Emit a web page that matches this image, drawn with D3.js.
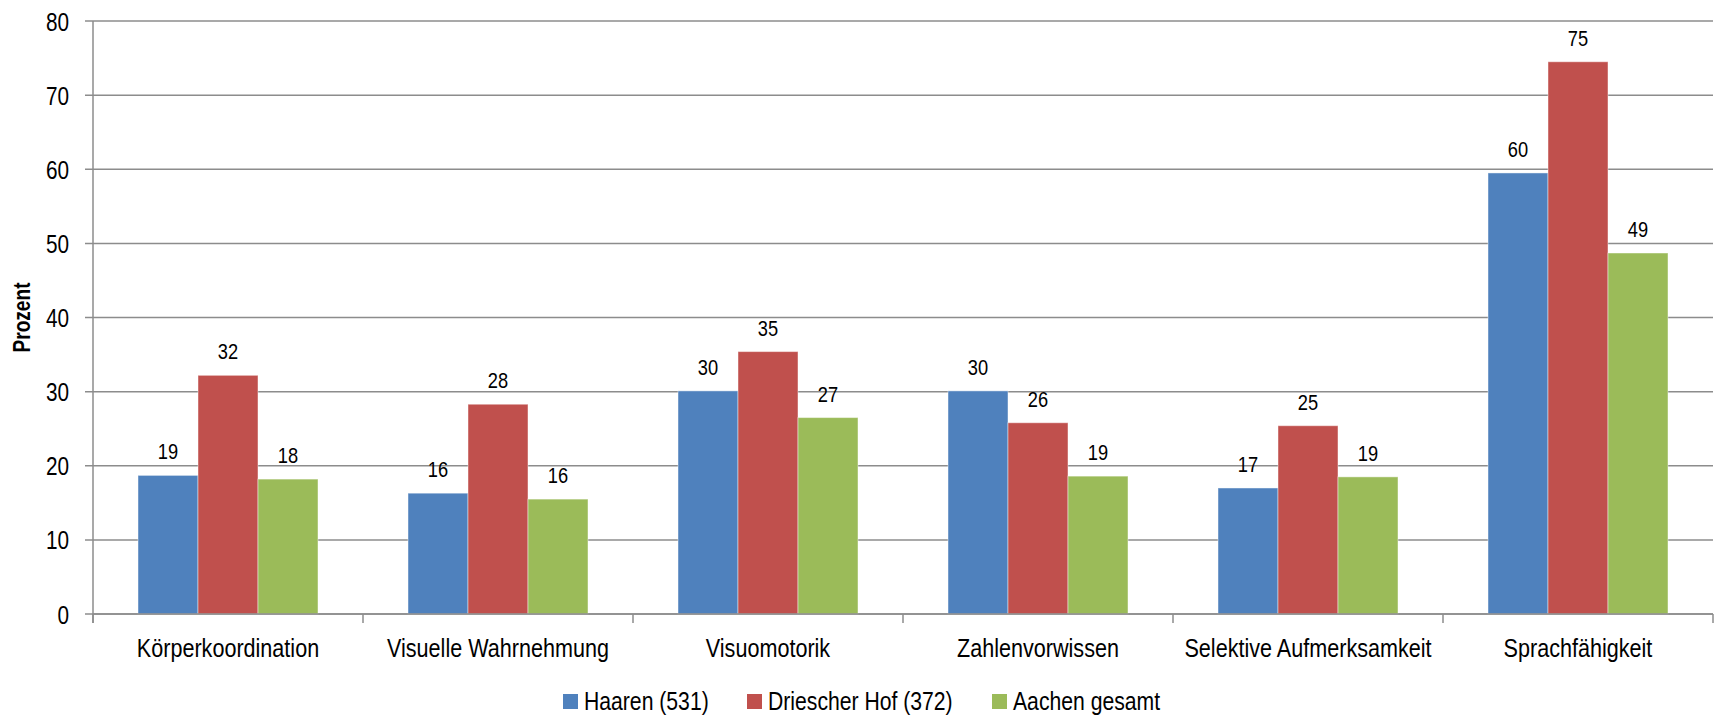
<!DOCTYPE html>
<html>
<head>
<meta charset="utf-8">
<script src="https://cdn.jsdelivr.net/npm/d3@7"></script>
<style>
  body { margin: 0; background: #fff; }
  text { font-family: "Liberation Sans", Arial, sans-serif; fill: #000; }
</style>
</head>
<body>
<figure id="chart" style="margin:0"></figure>
<script>
// categories and series
const categories = ["Körperkoordination", "Visuelle Wahrnehmung", "Visuomotorik", "Zahlenvorwissen", "Selektive Aufmerksamkeit", "Sprachfähigkeit"];
const seriesNames = ["Haaren (531)", "Driescher Hof (372)", "Aachen gesamt"];
const haaren = [18.7, 16.3, 30.1, 30.1, 17.0, 59.5];
const driescherHof = [32.2, 28.3, 35.4, 25.8, 25.4, 74.5];
const aachenGesamt = [18.2, 15.5, 26.5, 18.6, 18.5, 48.7];
const yTicks = [0, 10, 20, 30, 40, 50, 60, 70, 80];
const colors = ["#4F81BD", "#C0504D", "#9BBB59"];

const seriesValues = [haaren, driescherHof, aachenGesamt];

const W = 1719, H = 717;
const margin = {top: 21, right: 6, bottom: 103, left: 93};
const innerW = W - margin.left - margin.right;
const innerH = H - margin.top - margin.bottom;

// the chart font is a narrow sans; squeeze the regular one to match
function narrow(sel, k = 0.83) {
  sel.each(function() {
    const len = this.getComputedTextLength();
    d3.select(this)
      .attr("textLength", len * k)
      .attr("lengthAdjust", "spacingAndGlyphs");
  });
}

const svg = d3.select("figure#chart")
  .append("svg")
  .attr("width", W)
  .attr("height", H);

const g = svg.append("g")
  .attr("transform", `translate(${margin.left},${margin.top})`);

// scales
const x = d3.scaleBand()
  .domain(categories)
  .range([0, innerW]);

const xs = d3.scaleBand()
  .domain(seriesNames)
  .range([x.bandwidth() / 6, x.bandwidth() * 5 / 6]);

const y = d3.scaleLinear()
  .domain([0, 80])
  .range([innerH, 0]);

// gridlines
g.append("g")
  .selectAll("line")
  .data(yTicks)
  .join("line")
  .attr("x1", -8)
  .attr("x2", innerW)
  .attr("y1", d => y(d))
  .attr("y2", d => y(d))
  .attr("stroke", "#8c8c8c")
  .attr("stroke-width", 1.5);

// y axis labels
const yAxis = g.append("g")
  .call(d3.axisLeft(y).tickValues(yTicks).tickSize(0).tickPadding(24));
yAxis.select(".domain").remove();
yAxis.selectAll("text")
  .style("font-size", "25px")
  .attr("font-family", null)
  .attr("dy", "0.36em")
  .call(narrow);

// bars
const groups = g.selectAll(".grp")
  .data(categories)
  .join("g")
  .attr("class", "grp")
  .attr("transform", d => `translate(${x(d)},0)`);

const cells = groups.selectAll("g")
  .data((c, i) => seriesNames.map((s, j) => ({series: s, j: j, value: seriesValues[j][i]})))
  .join("g");

cells.append("rect")
  .attr("x", d => xs(d.series))
  .attr("y", d => y(d.value))
  .attr("width", xs.bandwidth())
  .attr("height", d => y(0) - y(d.value))
  .attr("fill", d => colors[d.j])
  .attr("stroke", "rgba(255,255,255,0.45)")
  .attr("stroke-width", 1);

cells.append("text")
  .attr("x", d => xs(d.series) + xs.bandwidth() / 2)
  .attr("y", d => y(d.value) - 16)
  .attr("text-anchor", "middle")
  .style("font-size", "22px")
  .text(d => d3.format(".0f")(d.value))
  .call(narrow);

// x axis
const xAxis = g.append("g")
  .attr("transform", `translate(0,${innerH})`);
xAxis.append("line")
  .attr("x1", 0).attr("x2", innerW)
  .attr("stroke", "#8c8c8c").attr("stroke-width", 1.5);
xAxis.selectAll(".tk")
  .data(d3.range(categories.length + 1))
  .join("line")
  .attr("class", "tk")
  .attr("x1", i => i * x.step()).attr("x2", i => i * x.step())
  .attr("y1", 0).attr("y2", 9)
  .attr("stroke", "#8c8c8c").attr("stroke-width", 1.5);
xAxis.selectAll(".lbl")
  .data(categories)
  .join("text")
  .attr("class", "lbl")
  .attr("x", d => x(d) + x.bandwidth() / 2)
  .attr("y", 43)
  .attr("text-anchor", "middle")
  .style("font-size", "26px")
  .text(d => d)
  .call(narrow);

// y axis line
g.append("line")
  .attr("x1", 0).attr("x2", 0)
  .attr("y1", 0).attr("y2", innerH + 9)
  .attr("stroke", "#8c8c8c").attr("stroke-width", 1.5);

// y title
svg.append("text")
  .attr("transform", `translate(30,${y(40) + margin.top}) rotate(-90)`)
  .attr("text-anchor", "middle")
  .style("font-size", "23px")
  .style("font-weight", "bold")
  .text("Prozent")
  .call(narrow);

// legend
const legendX = [563, 747, 992];
const legend = svg.append("g")
  .selectAll("g")
  .data(seriesNames)
  .join("g")
  .attr("transform", (d, i) => `translate(${legendX[i]},694)`);
legend.append("rect")
  .attr("width", 15).attr("height", 15)
  .attr("fill", (d, i) => colors[i]);
legend.append("text")
  .attr("x", 21).attr("y", 16)
  .style("font-size", "25.5px")
  .text(d => d)
  .call(narrow);
</script>
</body>
</html>
